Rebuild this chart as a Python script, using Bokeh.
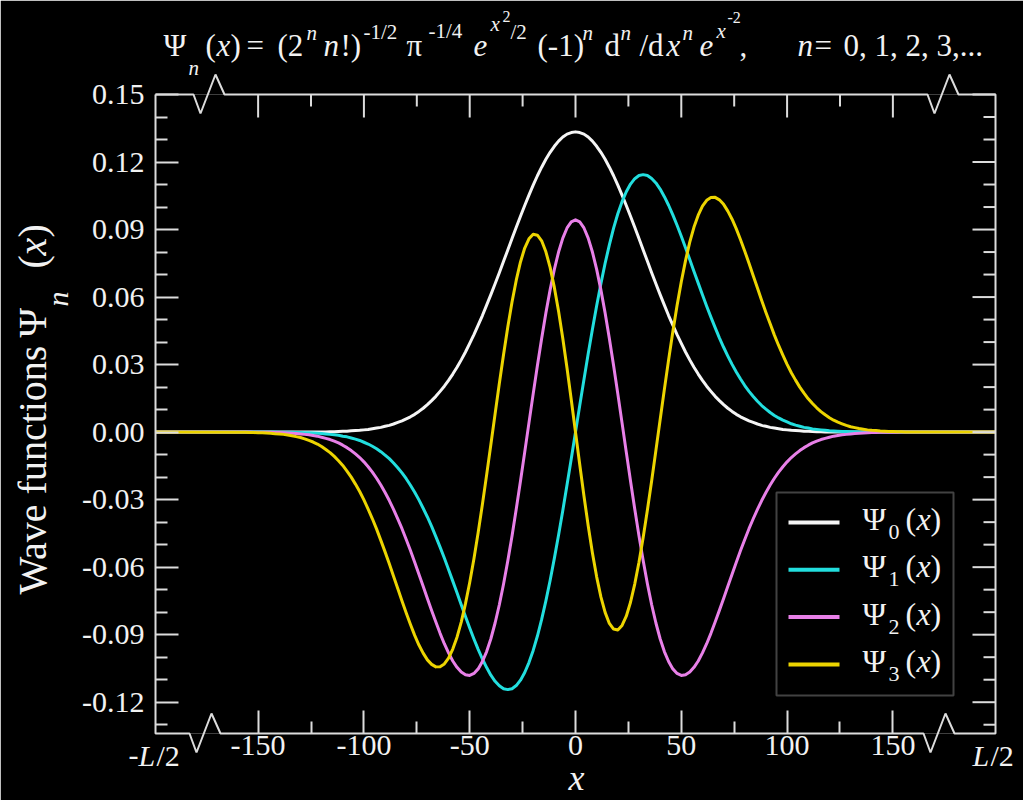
import math
from bokeh.plotting import figure
from bokeh.models import FixedTicker, PolyAnnotation, Arrow, Range1d, PrintfTickFormatter
from bokeh.core.properties import value
from bokeh.embed import file_html
from bokeh.resources import INLINE

# ---------------- data ----------------
X_EDGE = 198.5                       # -L/2 ... L/2
X = [-X_EDGE] + list(range(-160, 161, 2)) + [X_EDGE]
UNIT = 1e-4                          # the values below are in units of 1e-4

PSI0 = [0,
        0, 0, 0, 0, 0, 0, 0, 0, 0, 0, 0, 0, 0, 0, 0, 0, 0,
        1, 1, 1, 1, 1, 2, 2, 3, 4, 4, 6, 7, 8, 10, 12, 15, 18, 21, 26, 30, 36, 43, 50, 59, 68, 79, 92, 106,
        122, 140, 159, 181, 204, 230, 258, 288, 321, 356, 394, 433, 475, 518, 564, 611, 659, 708, 759, 809,
        860, 910, 959, 1007, 1053, 1097, 1139, 1177, 1212, 1243, 1270, 1293, 1311, 1324, 1331,
        1334,
        1331, 1324, 1311, 1293, 1270, 1243, 1212, 1177, 1139, 1097, 1053, 1007, 959, 910, 860, 809, 759, 708,
        659, 611, 564, 518, 475, 433, 394, 356, 321, 288, 258, 230, 204, 181, 159, 140, 122, 106, 92, 79, 68,
        59, 50, 43, 36, 30, 26, 21, 18, 15, 12, 10, 8, 7, 6, 4, 4, 3, 2, 2, 1, 1, 1, 1, 1,
        0, 0, 0, 0, 0, 0, 0, 0, 0, 0, 0, 0, 0, 0, 0, 0, 0,
        0]
PSI1 = [0,
        0, 0, 0, 0, 0, 0, 0, 0, 0, 0,
        -1, -1, -1, -1, -2, -2, -3, -3, -4, -5, -6, -8, -10, -12, -14, -18, -21, -26, -31, -37, -45, -53, -63,
        -74, -87, -102, -118, -137, -158, -181, -207, -236, -267, -301, -338, -377, -419, -464, -511, -559,
        -610, -662, -714, -767, -819, -870, -919, -965, -1008, -1046, -1080, -1107, -1127, -1140, -1144,
        -1140, -1126, -1102, -1068, -1024, -970, -906, -832, -750, -659, -561, -457, -348, -234, -118,
        0,
        118, 234, 348, 457, 561, 659, 750, 832, 906, 970, 1024, 1068, 1102, 1126, 1140, 1144, 1140, 1127, 1107,
        1080, 1046, 1008, 965, 919, 870, 819, 767, 714, 662, 610, 559, 511, 464, 419, 377, 338, 301, 267, 236,
        207, 181, 158, 137, 118, 102, 87, 74, 63, 53, 45, 37, 31, 26, 21, 18, 14, 12, 10, 8, 6, 5, 4, 3, 3, 2,
        2, 1, 1, 1, 1,
        0, 0, 0, 0, 0, 0, 0, 0, 0, 0,
        0]
PSI2 = [0,
        0, 0, 0, 0, -1, -1, -1, -1, -1, -2, -2,
        -3, -4, -5, -6, -8, -10, -12, -15, -18, -23, -28, -33, -40, -48, -58, -69, -82, -97, -113, -132,
        -154, -178, -205, -235, -268, -304, -343, -385, -429, -477, -526, -578, -631, -685, -739, -792, -844,
        -894, -940, -981, -1017, -1045, -1066, -1078, -1081, -1072, -1052, -1019, -975, -918,
        -848, -767, -675, -572, -461, -342, -217, -89, 41, 170, 296, 416, 529, 632, 723, 800, 862, 907, 934,
        943,
        934, 907, 862, 800, 723, 632, 529, 416, 296, 170, 41, -89, -217, -342, -461, -572, -675, -767, -848,
        -918, -975, -1019, -1052, -1072, -1081, -1078, -1066, -1045, -1017, -981, -940, -894, -844, -792,
        -739, -685, -631, -578, -526, -477, -429, -385, -343, -304, -268, -235, -205, -178, -154,
        -132, -113, -97, -82, -69, -58, -48, -40, -33, -28, -23, -18, -15, -12, -10, -8, -6, -5, -4, -3,
        -2, -2, -1, -1, -1, -1, -1, 0, 0, 0, 0,
        0]
PSI3 = [0,
        -1, -1, -1, -2, -2, -3, -3, -4, -5, -7, -8,
        -10, -13, -16, -20, -24, -30, -37, -44, -53, -64, -77, -91, -108, -127, -148, -173, -200, -231, -264,
        -301, -342, -385, -431, -481, -532, -585, -640, -695, -750, -804, -855, -903, -946, -982, -1012,
        -1032, -1043, -1042, -1030, -1004, -964, -911, -844, -762, -668, -563, -446, -321, -190, -55,
        81, 216, 345, 467, 578, 675, 756, 818, 859, 879, 875, 850, 801, 732, 643, 537, 416, 284, 144,
        0,
        -144, -284, -416, -537, -643, -732, -801, -850, -875, -879, -859, -818, -756, -675, -578, -467, -345,
        -216, -81, 55, 190, 321, 446, 563, 668, 762, 844, 911, 964, 1004, 1030, 1042, 1043, 1032, 1012, 982,
        946, 903, 855, 804, 750, 695, 640, 585, 532, 481, 431, 385, 342, 301, 264, 231, 200, 173, 148, 127,
        108, 91, 77, 64, 53, 44, 37, 30, 24, 20, 16, 13, 10, 8, 7, 5, 4, 3, 3, 2, 2, 1, 1, 1,
        0]
SERIES = [PSI0, PSI1, PSI2, PSI3]
LEGEND_IDX = ["0", "1", "2", "3"]
COLORS = ["#f5f5f5", "#22dede", "#e880e8", "#ecd400"]

X_TICKS = [-150, -100, -50, 0, 50, 100, 150]
X_MINOR = [-125, -75, -25, 25, 75, 125]
Y_TICKS = [-0.12, -0.09, -0.06, -0.03, 0.0, 0.03, 0.06, 0.09, 0.12, 0.15]
Y_MINOR = [-0.13, -0.11, -0.10, -0.08, -0.07, -0.05, -0.04, -0.02, -0.01, 0.01, 0.02, 0.04, 0.05,
           0.07, 0.08, 0.10, 0.11, 0.13, 0.14]
Y_MIN, Y_MAX = -0.1339, 0.15

for s in SERIES:
    assert len(s) == len(X), len(s)

# ---------------- layout ----------------
FL, FR, FT, FB = 155, 995, 94, 733
W, H = 1023, 800
FONT = "Liberation Serif"
TXT = "#f2f2f2"
FRAME = "#dcdcdc"
K = 0.38          # baseline correction (fraction of the font size)
MAJ, MIN = 23, 12  # tick lengths, px

p = figure(width=W, height=H, output_backend="svg", toolbar_location=None,
           x_range=Range1d(-X_EDGE, X_EDGE), y_range=Range1d(Y_MIN, Y_MAX),
           min_border_left=FL, min_border_right=W - FR, min_border_top=FT, min_border_bottom=H - FB,
           background_fill_color="black", border_fill_color="black")
p.outline_line_color = None
p.grid.visible = False

for ax in p.axis:
    ax.axis_line_color = None
    ax.major_tick_in = MAJ; ax.major_tick_out = 0
    ax.minor_tick_in = MIN; ax.minor_tick_out = 0
    ax.major_tick_line_color = FRAME; ax.minor_tick_line_color = FRAME
    ax.major_tick_line_width = 2; ax.minor_tick_line_width = 2
    ax.major_label_text_font = FONT
    ax.major_label_text_font_size = "30px"
    ax.major_label_text_color = TXT
p.xaxis.ticker = FixedTicker(ticks=X_TICKS, minor_ticks=X_MINOR)
p.xaxis.formatter = PrintfTickFormatter(format="%d")
p.xaxis.major_label_standoff = 2
p.yaxis.ticker = FixedTicker(ticks=Y_TICKS, minor_ticks=Y_MINOR)
p.yaxis.formatter = PrintfTickFormatter(format="%.2f")
p.yaxis.major_label_standoff = 11

for ys, c in zip(SERIES, COLORS):
    p.line(X, [v * UNIT for v in ys], line_color=c, line_width=3, line_join="round")

# canvas pixel -> data (for decorations placed around the frame)
def dx(cx): return -X_EDGE + (cx - FL) * (2 * X_EDGE) / (FR - FL)
def dy(cy): return Y_MIN + (FB - cy) * (Y_MAX - Y_MIN) / (FB - FT)
PX_X = 2 * X_EDGE / (FR - FL)
PX_Y = (Y_MAX - Y_MIN) / (FB - FT)

# mirrored ticks on the top and right edges
for ticks, ln in ((X_TICKS, MAJ), (X_MINOR, MIN)):
    p.segment(x0=ticks, y0=[Y_MAX] * len(ticks), x1=ticks, y1=[Y_MAX - ln * PX_Y] * len(ticks),
              line_color=FRAME, line_width=2, level="overlay")
for ticks, ln in ((Y_TICKS, MAJ), (Y_MINOR, MIN)):
    p.segment(x0=[X_EDGE] * len(ticks), y0=ticks, x1=[X_EDGE - ln * PX_X] * len(ticks), y1=ticks,
              line_color=FRAME, line_width=2, level="overlay")

# frame with axis-break marks (drawn above everything, not clipped)
fx = [155, 193, 200, 215, 224, 927, 934, 949, 958, 995, 995, 954, 945, 930, 923, 220, 211, 196, 189, 155, 155]
fy = [94, 94, 113, 74, 94, 94, 113, 74, 94, 94, 733, 733, 713, 752, 733, 733, 713, 752, 733, 733, 94]
p.line([dx(v) for v in fx], [dy(v) for v in fy], line_color=FRAME, line_width=2, level="overlay")

def gtxt(t, cx, cy, size, italic=False, rotated=False, align="left"):
    if rotated:
        cx = cx - K * size
    else:
        cy = cy - K * size
    p.text(x=[dx(cx)], y=[dy(cy)], text=[t], text_font=value(FONT), text_font_size=f"{size}px",
           text_font_style="italic" if italic else "normal", text_color=TXT,
           angle=math.pi / 2 if rotated else 0.0,
           text_align=align, text_baseline="alphabetic", level="overlay")

M, S, SS = 31, 21, 16
title = [("Ψ", 163, 57, M, 0), ("n", 188, 75, S, 1), ("(", 205, 57, M, 0), ("x", 216, 57, M, 1),
         (")", 230, 57, M, 0), ("=", 246, 57, M, 0), ("(2", 277, 57, M, 0), ("n", 306, 40, S, 1),
         ("n", 323, 57, M, 1), ("!)", 340, 57, M, 0), ("-1/2", 363, 39, S, 0), ("π", 406, 57, M, 0),
         ("-1/4", 428, 38, S, 0), ("e", 473, 57, M, 1), ("x", 490, 31, S, 1), ("2", 502, 22, SS, 0),
         ("/2", 510, 39, S, 0), ("(-1)", 537, 57, M, 0), ("n", 582, 40, S, 1), ("d", 604, 57, M, 0),
         ("n", 620, 40, S, 1), ("/d", 639, 57, M, 0), ("x", 666, 57, M, 1), ("n", 682, 40, S, 1),
         ("e", 699, 57, M, 1), ("x", 716, 38, S, 1), ("-2", 727, 23, SS, 0), (",", 739, 57, M, 0),
         ("n", 797, 57, M, 1), ("=", 814, 57, M, 0), ("0, 1, 2, 3,...", 843, 57, M, 0)]
for t, cx, cy, s, it in title:
    gtxt(t, cx, cy, s, bool(it))

# y-axis title (rotated)
gtxt("Wave functions", 47, 594, 40, rotated=True)
gtxt("Ψ", 47, 337, 40, rotated=True)
gtxt("n", 68, 306, 30, True, rotated=True)
gtxt("(", 47, 268, 40, rotated=True)
gtxt("x", 47, 255, 40, True, rotated=True)
gtxt(")", 47, 237, 40, rotated=True)

# x-axis title and the edge tick labels
gtxt("x", 576, 791, 36, True, align="center")
gtxt("-", 128, 766, 30); gtxt("L", 138, 766, 30, True); gtxt("/2", 156, 766, 30)
gtxt("L", 972, 766, 30, True); gtxt("/2", 990, 766, 30)

# legend
bx = [776, 953, 953, 776]; by = [492, 492, 695, 695]
p.add_layout(PolyAnnotation(xs=[v - FL for v in bx], ys=[FB - v for v in by], xs_units="screen", ys_units="screen",
                            fill_color="black", fill_alpha=1, line_color=FRAME, line_width=2))
for r, (idx, c) in enumerate(zip(LEGEND_IDX, COLORS)):
    ly = 522 + 47.3 * r
    p.add_layout(Arrow(end=None, x_start=788 - FL, y_start=FB - ly, x_end=839 - FL, y_end=FB - ly,
                       start_units="screen", end_units="screen", line_color=c, line_width=4))
    gtxt("Ψ", 862, ly + 8.7, 32)
    gtxt(idx, 888, ly + 18, 22)
    gtxt("(", 905, ly + 8.7, 32); gtxt("x", 916, ly + 8.7, 32, True); gtxt(")", 930, ly + 8.7, 32)

open("out.html", "w").write(file_html(p, INLINE))
